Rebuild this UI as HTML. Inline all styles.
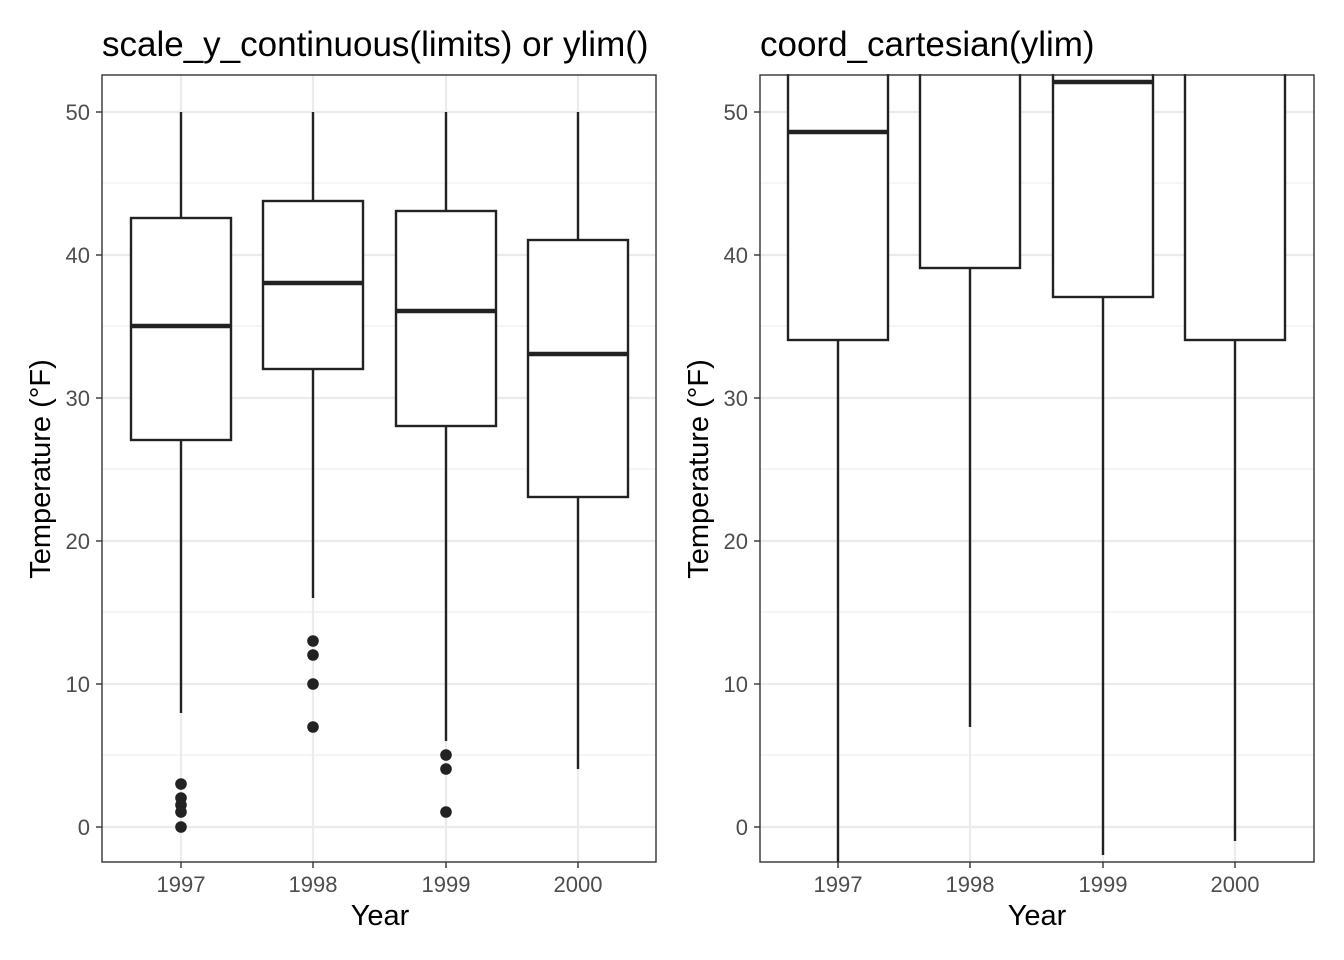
<!DOCTYPE html>
<html><head><meta charset="utf-8"><style>body{margin:0;background:#fff}svg{display:block}</style></head><body>
<svg width="1344" height="960" xmlns="http://www.w3.org/2000/svg" font-family="Liberation Sans, sans-serif">
<rect width="1344" height="960" fill="#fff"/>
<!-- LEFT PANEL -->
<g>
<g stroke="#ebebeb" stroke-width="1">
<line x1="102" x2="656" y1="755" y2="755"/><line x1="102" x2="656" y1="612" y2="612"/><line x1="102" x2="656" y1="469" y2="469"/><line x1="102" x2="656" y1="326" y2="326"/><line x1="102" x2="656" y1="183" y2="183"/>
</g>
<g stroke="#ebebeb" stroke-width="2.2">
<line x1="102" x2="656" y1="827" y2="827"/><line x1="102" x2="656" y1="684" y2="684"/><line x1="102" x2="656" y1="541" y2="541"/><line x1="102" x2="656" y1="398" y2="398"/><line x1="102" x2="656" y1="255" y2="255"/><line x1="102" x2="656" y1="112" y2="112"/>
<line x1="181" x2="181" y1="75" y2="862"/><line x1="313" x2="313" y1="75" y2="862"/><line x1="446" x2="446" y1="75" y2="862"/><line x1="578" x2="578" y1="75" y2="862"/>
</g>
<g stroke="#222" stroke-width="2.4" fill="#fff">
<line x1="181" x2="181" y1="112" y2="713"/><rect x="131" y="218" width="100" height="222"/><line x1="131" x2="231" y1="326" y2="326" stroke-width="4.5"/>
<line x1="313" x2="313" y1="112" y2="598"/><rect x="263" y="201" width="100" height="168"/><line x1="263" x2="363" y1="283" y2="283" stroke-width="4.5"/>
<line x1="446" x2="446" y1="112" y2="741"/><rect x="396" y="211" width="100" height="215"/><line x1="396" x2="496" y1="311" y2="311" stroke-width="4.5"/>
<line x1="578" x2="578" y1="112" y2="769"/><rect x="528" y="240" width="100" height="257"/><line x1="528" x2="628" y1="354" y2="354" stroke-width="4.5"/>
</g>
<g fill="#222">
<circle cx="181" cy="827" r="5.8"/><circle cx="181" cy="812" r="5.8"/><circle cx="181" cy="805" r="5.8"/><circle cx="181" cy="798" r="5.8"/><circle cx="181" cy="784" r="5.8"/>
<circle cx="313" cy="727" r="5.8"/><circle cx="313" cy="684" r="5.8"/><circle cx="313" cy="655" r="5.8"/><circle cx="313" cy="641" r="5.8"/>
<circle cx="446" cy="812" r="5.8"/><circle cx="446" cy="769" r="5.8"/><circle cx="446" cy="755" r="5.8"/>
</g>
<rect x="102" y="75" width="554" height="787" fill="none" stroke="#333" stroke-width="1.4"/>
<g stroke="#333" stroke-width="1.4">
<line x1="96" x2="102" y1="827" y2="827"/><line x1="96" x2="102" y1="684" y2="684"/><line x1="96" x2="102" y1="541" y2="541"/><line x1="96" x2="102" y1="398" y2="398"/><line x1="96" x2="102" y1="255" y2="255"/><line x1="96" x2="102" y1="112" y2="112"/>
<line x1="181" x2="181" y1="862" y2="868"/><line x1="313" x2="313" y1="862" y2="868"/><line x1="446" x2="446" y1="862" y2="868"/><line x1="578" x2="578" y1="862" y2="868"/>
</g>
<g fill="#4d4d4d" font-size="22" text-anchor="end">
<text x="90" y="835">0</text><text x="90" y="692">10</text><text x="90" y="549">20</text><text x="90" y="406">30</text><text x="90" y="263">40</text><text x="90" y="120">50</text>
</g>
<g fill="#4d4d4d" font-size="22" text-anchor="middle">
<text x="181" y="892">1997</text><text x="313" y="892">1998</text><text x="446" y="892">1999</text><text x="578" y="892">2000</text>
</g>
<text x="380" y="925" font-size="29" text-anchor="middle">Year</text>
<text transform="translate(50,469) rotate(-90)" font-size="29" text-anchor="middle">Temperature (°F)</text>
</g>
<!-- RIGHT PANEL -->
<g>
<g stroke="#ebebeb" stroke-width="1">
<line x1="760" x2="1314" y1="755" y2="755"/><line x1="760" x2="1314" y1="612" y2="612"/><line x1="760" x2="1314" y1="469" y2="469"/><line x1="760" x2="1314" y1="326" y2="326"/><line x1="760" x2="1314" y1="183" y2="183"/>
</g>
<g stroke="#ebebeb" stroke-width="2.2">
<line x1="760" x2="1314" y1="827" y2="827"/><line x1="760" x2="1314" y1="684" y2="684"/><line x1="760" x2="1314" y1="541" y2="541"/><line x1="760" x2="1314" y1="398" y2="398"/><line x1="760" x2="1314" y1="255" y2="255"/><line x1="760" x2="1314" y1="112" y2="112"/>
<line x1="838" x2="838" y1="75" y2="862"/><line x1="970" x2="970" y1="75" y2="862"/><line x1="1103" x2="1103" y1="75" y2="862"/><line x1="1235" x2="1235" y1="75" y2="862"/>
</g>
<g stroke="#222" stroke-width="2.4" fill="#fff">
<line x1="838" x2="838" y1="340" y2="862"/><rect x="788" y="70" width="100" height="270"/><line x1="788" x2="888" y1="132" y2="132" stroke-width="4.5"/>
<line x1="970" x2="970" y1="268" y2="727"/><rect x="920" y="70" width="100" height="198"/>
<line x1="1103" x2="1103" y1="297" y2="855"/><rect x="1053" y="70" width="100" height="227"/><line x1="1053" x2="1153" y1="82" y2="82" stroke-width="4.5"/>
<line x1="1235" x2="1235" y1="340" y2="841"/><rect x="1185" y="70" width="100" height="270"/>
</g>
<rect x="700" y="0" width="644" height="74" fill="#fff"/>
<rect x="760" y="75" width="554" height="787" fill="none" stroke="#333" stroke-width="1.4"/>
<g stroke="#333" stroke-width="1.4">
<line x1="754" x2="760" y1="827" y2="827"/><line x1="754" x2="760" y1="684" y2="684"/><line x1="754" x2="760" y1="541" y2="541"/><line x1="754" x2="760" y1="398" y2="398"/><line x1="754" x2="760" y1="255" y2="255"/><line x1="754" x2="760" y1="112" y2="112"/>
<line x1="838" x2="838" y1="862" y2="868"/><line x1="970" x2="970" y1="862" y2="868"/><line x1="1103" x2="1103" y1="862" y2="868"/><line x1="1235" x2="1235" y1="862" y2="868"/>
</g>
<g fill="#4d4d4d" font-size="22" text-anchor="end">
<text x="748" y="835">0</text><text x="748" y="692">10</text><text x="748" y="549">20</text><text x="748" y="406">30</text><text x="748" y="263">40</text><text x="748" y="120">50</text>
</g>
<g fill="#4d4d4d" font-size="22" text-anchor="middle">
<text x="838" y="892">1997</text><text x="970" y="892">1998</text><text x="1103" y="892">1999</text><text x="1235" y="892">2000</text>
</g>
<text x="1037" y="925" font-size="29" text-anchor="middle">Year</text>
<text transform="translate(708,469) rotate(-90)" font-size="29" text-anchor="middle">Temperature (°F)</text>
<text x="760" y="56" font-size="35">coord_cartesian(ylim)</text>
</g>
<text x="102" y="56" font-size="35">scale_y_continuous(limits) or ylim()</text>
</svg>
</body></html>
